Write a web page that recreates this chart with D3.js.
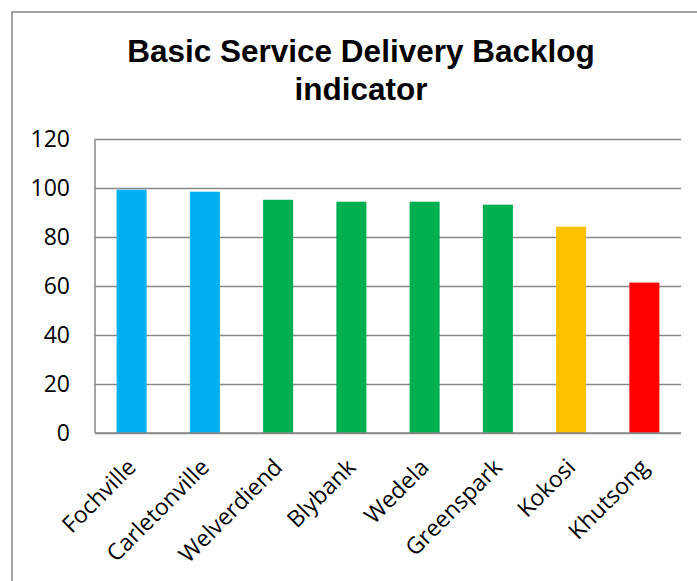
<!DOCTYPE html>
<html lang="en">
<head>
  <meta charset="utf-8">
  <title>Basic Service Delivery Backlog indicator</title>
  <script src="https://d3js.org/d3.v7.min.js"></script>
  <style>
    body { margin: 0; background: #fff; }
    .tick text { fill: #000; }
  </style>
</head>
<body>
  <script>
    // values
    const areas = ["Fochville", "Carletonville", "Welverdiend", "Blybank", "Wedela", "Greenspark", "Kokosi", "Khutsong"];
    const backlog = [99.3, 98.5, 95.2, 94.4, 94.4, 93.2, 84.2, 61.4];
    const barColors = ["#00B0F0", "#00B0F0", "#00B050", "#00B050", "#00B050", "#00B050", "#FFC000", "#FF0000"];
    const yTicks = [0, 20, 40, 60, 80, 100, 120];
    const titleLines = ["Basic Service Delivery Backlog", "indicator"];

    const width = 697, height = 581;
    const margin = {top: 139, right: 16, bottom: 148, left: 95};
    const gray = "#878787";

    const svg = d3.select("body").append("svg")
        .attr("width", width)
        .attr("height", height);

    // chart border (runs off the right/bottom edge like the source)
    svg.append("rect")
        .attr("x", 12).attr("y", 12)
        .attr("width", 720).attr("height", 600)
        .style("fill", "none")
        .style("stroke", gray)
        .style("stroke-width", 1.5);

    svg.append("text")
        .attr("x", 361)
        .attr("y", 62)
        .attr("text-anchor", "middle")
        .style("font-family", "'Liberation Sans', Arial, sans-serif")
        .style("font-weight", "bold")
        .style("font-size", "31.5px")
        .selectAll("tspan")
        .data(titleLines)
        .join("tspan")
        .attr("x", 361)
        .attr("dy", (d, i) => i === 0 ? 0 : 38)
        .text(d => d);

    const x = d3.scaleBand()
        .domain(areas)
        .range([margin.left, width - margin.right])
        .paddingInner(0.59)
        .paddingOuter(0.295);

    const y = d3.scaleLinear()
        .domain([0, 120])
        .range([height - margin.bottom, margin.top]);

    // gridlines + y labels
    const yAxis = svg.append("g")
        .attr("transform", `translate(${margin.left},0)`)
        .call(d3.axisLeft(y).tickValues(yTicks).tickSize(-(width - margin.left - margin.right)).tickPadding(25));
    yAxis.select(".domain").remove();
    yAxis.selectAll(".tick line")
        .style("stroke", gray)
        .style("stroke-width", 1.5);
    yAxis.selectAll(".tick text")
        .style("font-family", "'Open Sans', sans-serif")
        .style("font-size", "23px");

    // left axis line
    svg.append("line")
        .attr("x1", margin.left).attr("x2", margin.left)
        .attr("y1", y(120)).attr("y2", y(0))
        .style("stroke", gray)
        .style("stroke-width", 1.5);

    svg.append("g")
        .selectAll("rect")
        .data(areas)
        .join("rect")
        .attr("x", d => x(d))
        .attr("y", (d, i) => y(backlog[i]))
        .attr("width", x.bandwidth())
        .attr("height", (d, i) => y(0) - y(backlog[i]))
        .style("fill", (d, i) => barColors[i]);

    // bottom axis
    const xAxis = svg.append("g")
        .attr("transform", `translate(0,${y(0)})`)
        .call(d3.axisBottom(x).tickSize(0).tickPadding(0));
    xAxis.select(".domain")
        .attr("d", `M${margin.left},0H${width - margin.right}`)
        .style("stroke", gray)
        .style("stroke-width", 1.5);
    xAxis.selectAll(".tick text")
        .style("font-family", "'Open Sans', sans-serif")
        .style("font-size", "23px")
        .attr("text-anchor", "end")
        .attr("x", 0)
        .attr("y", 30)
        .attr("dy", "0.35em")
        .attr("transform", "rotate(-45, 0, 30)");
  </script>
</body>
</html>
